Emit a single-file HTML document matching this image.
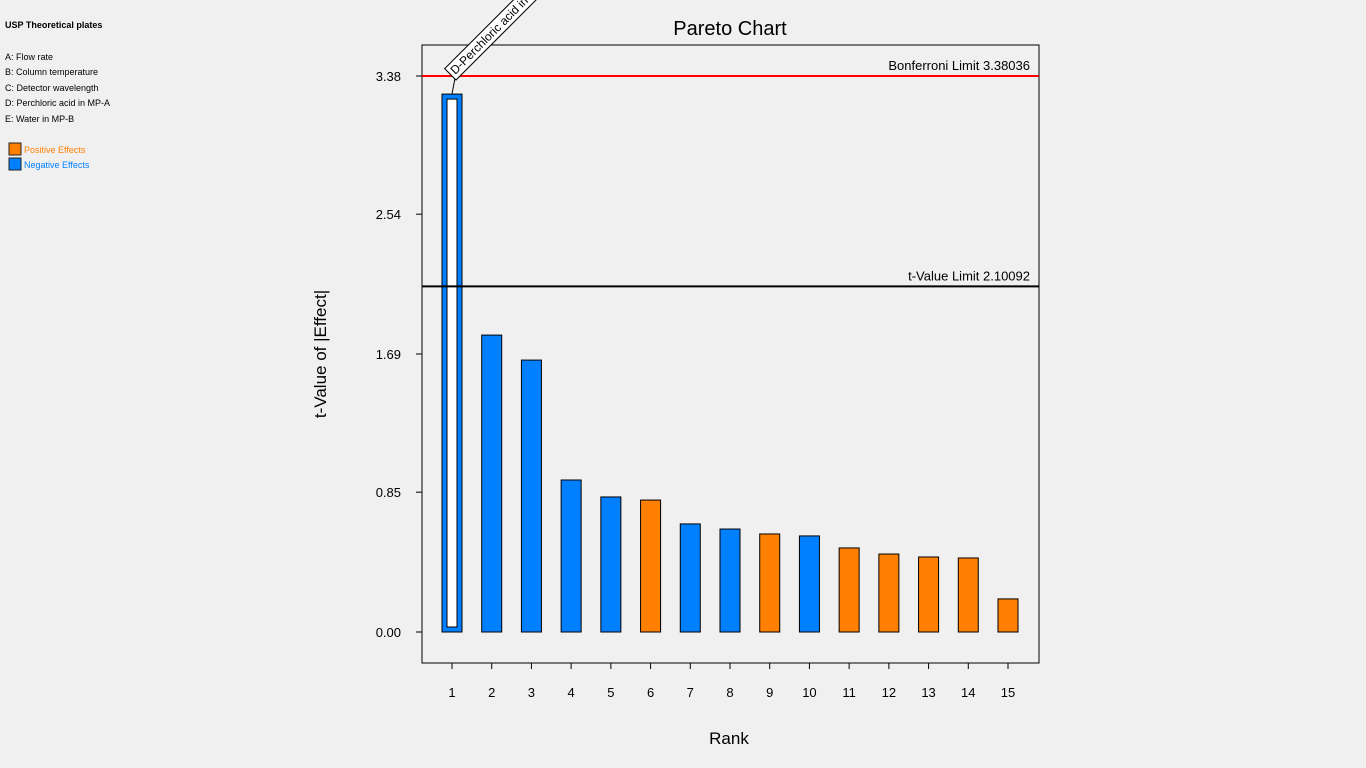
<!DOCTYPE html>
<html><head><meta charset="utf-8"><style>
html,body{margin:0;background:#f0f0f0;font-family:"Liberation Sans",sans-serif;overflow:hidden;width:1366px;height:768px}
svg{display:block}
svg text{font-family:"Liberation Sans",sans-serif}
</style></head><body>
<svg id="c" width="1366" height="768">
<g font-size="9" fill="#000">
<text x="5" y="28" font-weight="bold">USP Theoretical plates</text>
<text x="5" y="60">A: Flow rate</text>
<text x="5" y="75">B: Column temperature</text>
<text x="5" y="91">C: Detector wavelength</text>
<text x="5" y="106">D: Perchloric acid in MP-A</text>
<text x="5" y="122">E: Water in MP-B</text>
<rect x="9" y="143" width="12" height="12" fill="#ff8000" stroke="#222"/>
<text x="24" y="153" fill="#ff8000">Positive Effects</text>
<rect x="9" y="158" width="12" height="12" fill="#0080ff" stroke="#222"/>
<text x="24" y="168" fill="#0080ff">Negative Effects</text>
</g>
<text x="730" y="35" text-anchor="middle" font-size="20">Pareto Chart</text>
<rect x="422" y="45" width="617" height="618" fill="none" stroke="#000"/>
<text x="729" y="744" text-anchor="middle" font-size="17">Rank</text>
<text transform="translate(326,354) rotate(-90)" text-anchor="middle" font-size="17">t-Value of |Effect|</text>
<g id="marks"></g>
</svg>
<script>
const ranks=[1,2,3,4,5,6,7,8,9,10,11,12,13,14,15];
const values=[3.27,1.805,1.653,0.924,0.821,0.802,0.657,0.626,0.596,0.584,0.511,0.474,0.456,0.450,0.201];
const signs=["neg","neg","neg","neg","neg","pos","neg","neg","pos","neg","pos","pos","pos","pos","pos"];
const yTicks=[0,0.85,1.69,2.54,3.38];
const yTickLabels=["0.00","0.85","1.69","2.54","3.38"];
const bonferroni=3.38036;
const tLimit=2.10092;
const NS="http://www.w3.org/2000/svg";
const X0=422,X1=1039;
const y=v=>632-v*(556/3.38);
const x=r=>452+(r-1)*(556/14);
const g=document.getElementById('marks');
function mk(t,a){const e=document.createElementNS(NS,t);for(const k in a)e.setAttribute(k,a[k]);g.appendChild(e);return e;}
yTicks.forEach((v,i)=>{
 const l=mk('line',{x1:X0-6,x2:X0,y1:y(v),y2:y(v),stroke:'#000'});
 
 
 const t=mk('text',{x:X0-21,y:y(v)+5,'text-anchor':'end','font-size':13});t.textContent=yTickLabels[i];
 
 
});
ranks.forEach((r,i)=>{
 const l=mk('line',{x1:x(r),x2:x(r),y1:663,y2:669,stroke:'#000'});
 
 
 const t=mk('text',{x:x(r),y:697,'text-anchor':'middle','font-size':13});t.textContent=r;
 
 
 const b=mk('rect',{x:x(r)-10,y:y(values[i]),width:20,height:y(0)-y(values[i]),fill:signs[i]=='pos'?'#ff8000':'#0080ff',stroke:'#000'});
 
 
 if(i===0){
  const w=mk('rect',{x:x(r)-5,y:y(values[i])+5,width:10,height:y(0)-y(values[i])-10,fill:'#fff',stroke:'#000'});
  
  
 }
});
const bl=mk('line',{x1:X0,x2:X1,y1:y(bonferroni),y2:y(bonferroni),stroke:'#f00','stroke-width':2});


const bt=mk('text',{x:1030,y:y(bonferroni)-6,'text-anchor':'end','font-size':13});bt.textContent='Bonferroni Limit '+bonferroni;


const tl=mk('line',{x1:X0,x2:X1,y1:y(tLimit),y2:y(tLimit),stroke:'#000','stroke-width':2});


const tt=mk('text',{x:1030,y:y(tLimit)-6,'text-anchor':'end','font-size':13});tt.textContent='t-Value Limit '+tLimit;


const ld=mk('line',{x1:x(1),y1:y(values[0]),x2:x(1)+3,y2:78,stroke:'#000'});


const ag=document.createElementNS(NS,'g');ag.setAttribute('transform','translate(456,80) rotate(-45)');g.appendChild(ag);


const ar=document.createElementNS(NS,'rect');ar.setAttribute('x',0);ar.setAttribute('y',-16);ar.setAttribute('width',170);ar.setAttribute('height',16);ar.setAttribute('fill','#fff');ar.setAttribute('stroke','#000');ag.appendChild(ar);
const at=document.createElementNS(NS,'text');at.setAttribute('x',3);at.setAttribute('y',-4);at.setAttribute('font-size',12);at.textContent='D-Perchloric acid in MP-A';ag.appendChild(at);
</script>
</body></html>
